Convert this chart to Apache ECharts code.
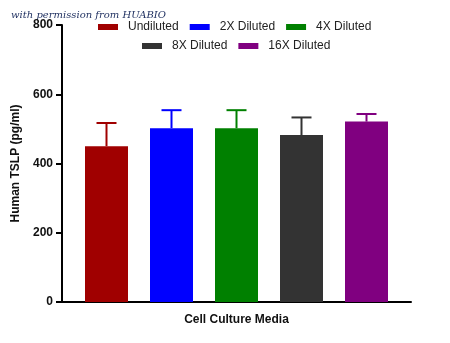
<!DOCTYPE html>
<html>
<head>
<meta charset="utf-8">
<script src="https://cdn.jsdelivr.net/npm/echarts@6/dist/echarts.min.js"></script>
<style>html,body{margin:0;padding:0;background:#fff}#c{width:450px;height:343px}</style>
</head>
<body>
<div id="c"></div>
<script>
const categories = ['Cell Culture Media'];
const seriesNames = ['Undiluted', '2X Diluted', '4X Diluted', '8X Diluted', '16X Diluted'];
const means = [450, 502, 502, 482, 521];
const upperErr = [517, 554, 554, 533, 543];
const colors = ['#a00000', '#0000ff', '#008000', '#333333', '#800080'];
const yTicks = [0, 200, 400, 600, 800];

const BAR_W = 43, BAR_GAP = 22;
const chart = echarts.init(document.getElementById('c'), null, {renderer: 'canvas'});

const barSeries = seriesNames.map((n, i) => ({
  name: n, type: 'bar', barWidth: BAR_W, barGap: (BAR_GAP / BAR_W * 100) + '%',
  itemStyle: {color: colors[i]}, data: [means[i]], z: 2
}));
const errSeries = seriesNames.map((n, i) => ({
  name: n + ' err', type: 'custom', z: 3,
  data: [[0, means[i], upperErr[i]]],
  renderItem: function (params, api) {
    const off = (i - 2) * (BAR_W + BAR_GAP);
    const base = api.coord([api.value(0), api.value(1)]);
    const top = api.coord([api.value(0), api.value(2)]);
    const x = base[0] + off;
    const st = {stroke: colors[i], lineWidth: 2};
    return {type: 'group', children: [
      {type: 'line', shape: {x1: x, y1: base[1], x2: x, y2: top[1]}, style: st},
      {type: 'line', shape: {x1: x - 10, y1: top[1], x2: x + 10, y2: top[1]}, style: st}
    ]};
  }
}));

const legendCommon = {
  itemWidth: 20, itemHeight: 6, itemGap: 11, icon: 'rect', padding: 0,
  textStyle: {fontFamily: 'Liberation Sans', fontSize: 12, color: '#222', padding: [0, 0, 0, 5]}
};

chart.setOption({
  animation: false,
  grid: {left: 62, right: 39, top: 25, bottom: 41},
  legend: [
    Object.assign({left: 98, top: 21, data: seriesNames.slice(0, 3)}, legendCommon),
    Object.assign({left: 142, top: 40, data: seriesNames.slice(3)}, legendCommon)
  ],
  graphic: [{
    type: 'text', left: 11, top: 10,
    style: {text: 'with permission from HUABIO', fill: '#1c2d5e',
      font: 'italic 10px "DejaVu Serif"'}
  }],
  xAxis: {
    type: 'category', data: categories,
    name: 'Cell Culture Media', nameLocation: 'middle', nameGap: 12,
    nameTextStyle: {fontFamily: 'Liberation Sans', fontWeight: 'bold', fontSize: 12, color: '#111'},
    axisLine: {lineStyle: {color: '#000', width: 2}},
    axisTick: {alignWithLabel: true, length: 5, lineStyle: {color: '#000', width: 2}},
    axisLabel: {show: false}
  },
  yAxis: {
    type: 'value', min: yTicks[0], max: yTicks[yTicks.length - 1], interval: 200,
    name: 'Human TSLP (pg/ml)', nameLocation: 'middle', nameGap: 37,
    nameTextStyle: {fontFamily: 'Liberation Sans', fontWeight: 'bold', fontSize: 12, color: '#111'},
    axisLine: {show: true, lineStyle: {color: '#000', width: 2}},
    axisTick: {show: true, length: 6, lineStyle: {color: '#000', width: 2}},
    axisLabel: {margin: 9, fontFamily: 'Liberation Sans', fontWeight: 'bold', fontSize: 12, color: '#111'},
    splitLine: {show: false}
  },
  series: barSeries.concat(errSeries)
});
</script>
</body>
</html>
